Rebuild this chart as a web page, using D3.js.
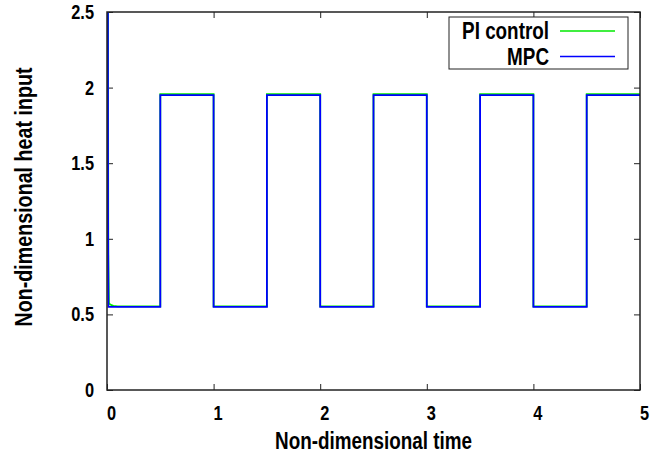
<!DOCTYPE html>
<html>
<head>
<meta charset="UTF-8">
<title>Heat input</title>
<script src="https://d3js.org/d3.v7.min.js"></script>
<style>
  body { margin: 0; background: #fff; }
  text { font-family: "Liberation Sans", Arial, sans-serif; font-weight: bold; fill: #000; }
</style>
</head>
<body>
<div id="chart"></div>
<script>
// data: non-dimensional time vs heat input
const timeMPC = [0.008, 0.010, 0.013, 0.5, 0.5, 1.0, 1.0, 1.5, 1.5, 2.0, 2.0, 2.5, 2.5, 3.0, 3.0, 3.5, 3.5, 4.0, 4.0, 4.5, 4.5, 5.0];
const valMPC  = [3.2, 1.2, 0.55, 0.55, 1.95, 1.95, 0.55, 0.55, 1.95, 1.95, 0.55, 0.55, 1.95, 1.95, 0.55, 0.55, 1.95, 1.95, 0.55, 0.55, 1.95, 1.95];

const timePI = [0.008, 0.012, 0.018, 0.03, 0.06, 0.1, 0.5, 0.5, 1.0, 1.0, 1.5, 1.5, 2.0, 2.0, 2.5, 2.5, 3.0, 3.0, 3.5, 3.5, 4.0, 4.0, 4.5, 4.5, 5.0];
const valPI  = [3.2, 0.9, 0.575, 0.565, 0.557, 0.553, 0.553, 1.956, 1.956, 0.553, 0.553, 1.956, 1.956, 0.553, 0.553, 1.956, 1.956, 0.553, 0.553, 1.956, 1.956, 0.553, 0.553, 1.956, 1.956];

const xTicks = [0, 1, 2, 3, 4, 5];
const yTicks = [0, 0.5, 1, 1.5, 2, 2.5];

const margin = {top: 12, right: 30, bottom: 69, left: 107};
const W = 670, H = 459;
const width = W - margin.left - margin.right;
const height = H - margin.top - margin.bottom;
const sx = 0.82; // narrow lettering

const svg = d3.select("#chart").append("svg")
    .attr("width", W).attr("height", H);
const g = svg.append("g")
    .attr("transform", `translate(${margin.left},${margin.top})`);

const x = d3.scaleLinear().domain([0, 5]).range([0, width]);
const y = d3.scaleLinear().domain([0, 2.5]).range([height, 0]);

g.append("clipPath").attr("id", "clip")
  .append("rect").attr("width", width).attr("height", height);

// ticks (inward, mirrored)
const tk = 6;
g.append("g").attr("class", "xax").attr("transform", `translate(0,${height})`)
  .call(d3.axisBottom(x).tickValues(xTicks).tickSize(-tk).tickPadding(16).tickFormat(d3.format("d")))
  .call(a => a.select(".domain").remove());
g.append("g")
  .call(d3.axisTop(x).tickValues(xTicks).tickSize(-tk).tickFormat(""))
  .call(a => a.select(".domain").remove());
g.append("g").attr("class", "yax")
  .call(d3.axisLeft(y).tickValues(yTicks).tickSize(-tk).tickPadding(12).tickFormat(d => d))
  .call(a => a.select(".domain").remove());
g.append("g").attr("transform", `translate(${width},0)`)
  .call(d3.axisRight(y).tickValues(yTicks).tickSize(-tk).tickFormat(""))
  .call(a => a.select(".domain").remove());

g.selectAll(".tick line").attr("stroke", "#222").attr("stroke-width", 1);
g.selectAll(".tick text").style("font-size", "20px").attr("fill", "#000")
  .attr("transform", `scale(${sx},1)`);
g.selectAll(".yax .tick text").attr("x", -13 / sx);
g.selectAll(".xax .tick text").attr("x", 4 / sx);

const line = d3.line().x(d => x(d[0])).y(d => y(d[1]));

g.append("path")
  .datum(timePI.map((t, i) => [t, valPI[i]]))
  .attr("clip-path", "url(#clip)")
  .attr("fill", "none").attr("stroke", "#00e800").attr("stroke-width", 1.8)
  .attr("d", line);
g.append("path")
  .datum(timeMPC.map((t, i) => [t, valMPC[i]]))
  .attr("clip-path", "url(#clip)")
  .attr("fill", "none").attr("stroke", "#0000ff").attr("stroke-width", 1.8)
  .attr("d", line);

// frame
g.append("rect").attr("width", width).attr("height", height)
  .attr("fill", "none").attr("stroke", "#222").attr("stroke-width", 1.5);

// legend
const leg = g.append("g").attr("transform", `translate(${449 - margin.left},${17 - margin.top})`);
leg.append("rect").attr("width", 179).attr("height", 52)
  .attr("fill", "#fff").attr("stroke", "#222").attr("stroke-width", 1);
const legItems = [["PI control", "#00e800"], ["MPC", "#0000ff"]];
legItems.forEach((d, i) => {
  const yy = 14 + i * 25.5;
  leg.append("text").attr("transform", `translate(100,${yy + 8}) scale(${sx},1)`)
    .attr("text-anchor", "end").style("font-size", "23px").text(d[0]);
  leg.append("line").attr("x1", 111).attr("x2", 166).attr("y1", yy).attr("y2", yy)
    .attr("stroke", d[1]).attr("stroke-width", 1.5);
});

// axis titles
svg.append("text").attr("transform", `translate(${margin.left + width / 2},449) scale(${sx},1)`)
  .attr("text-anchor", "middle").style("font-size", "23px").text("Non-dimensional time");
svg.append("text").attr("transform", `translate(32,${margin.top + height / 2 - 4}) rotate(-90) scale(${sx},1)`)
  .attr("text-anchor", "middle").style("font-size", "24px").text("Non-dimensional heat input");
</script>
</body>
</html>
